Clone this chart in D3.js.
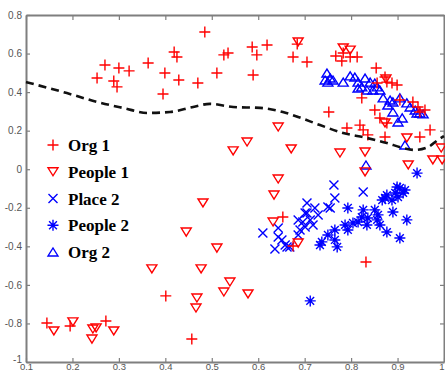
<!DOCTYPE html>
<html><head><meta charset="utf-8">
<script src="https://cdn.jsdelivr.net/npm/d3@7"></script>
<style>html,body{margin:0;padding:0;background:#fff;} svg{display:block}</style>
</head><body>
<svg id="c" width="445" height="372"></svg>
<script>
// ---------- data ----------
const xTicks = [0.1,0.2,0.3,0.4,0.5,0.6,0.7,0.8,0.9,1.0];
const xTickLabels = ["0.1","0.2","0.3","0.4","0.5","0.6","0.7","0.8","0.9","1"];
const yTicks = [0.8,0.6,0.4,0.2,0,-0.2,-0.4,-0.6,-0.8,-1];
const yTickLabels = ["0.8","0.6","0.4","0.2","0","-0.2","-0.4","-0.6","-0.8","-1"];
const seriesNames = ["Org 1","People 1","Place 2","People 2","Org 2"];

const org1 = [
 [0.253,0.473],[0.270,0.541],[0.300,0.525],[0.322,0.510],[0.289,0.458],[0.296,0.427],
 [0.363,0.551],[0.485,0.712],[0.419,0.608],[0.425,0.582],[0.399,0.499],[0.429,0.463],
 [0.470,0.447],[0.395,0.390],[0.511,0.499],[0.526,0.593],[0.535,0.603],[0.587,0.634],
 [0.597,0.593],[0.619,0.644],[0.589,0.489],[0.675,0.582],[0.684,0.649],[0.705,0.556],
 [0.767,0.587],[0.783,0.603],[0.798,0.582],[0.813,0.582],[0.780,0.561],[0.854,0.525],
 [0.873,0.478],[0.877,0.452],[0.888,0.447],[0.899,0.437],[0.856,0.447],[0.823,0.370],
 [0.752,0.297],[0.851,0.307],[0.862,0.266],[0.877,0.240],[0.905,0.359],[0.933,0.349],
 [0.944,0.323],[0.948,0.297],[0.959,0.307],[0.791,0.214],[0.819,0.229],[0.826,0.204],
 [0.836,0.178],[0.873,0.167],[0.948,0.167],[0.970,0.204],[0.653,-0.248],[0.675,-0.398],
 [0.401,-0.657],[0.457,-0.881],[0.832,-0.481],[0.145,-0.798],[0.195,-0.813],[0.272,-0.787]
];
const people1 = [
 [0.686,0.660],[0.783,0.629],[0.798,0.618],[0.875,0.468],[0.873,0.240],[0.920,0.162],
 [0.776,0.084],[0.830,0.089],[0.830,-0.014],[0.923,0.022],[0.976,0.048],[0.996,0.048],
 [0.994,0.110],[0.643,0.219],[0.576,0.141],[0.546,0.095],[0.671,0.105],[0.643,-0.051],
 [0.634,-0.134],[0.481,-0.175],[0.445,-0.326],[0.632,-0.274],[0.511,-0.409],[0.686,-0.383],
 [0.371,-0.517],[0.477,-0.517],[0.539,-0.585],[0.526,-0.637],[0.578,-0.647],[0.468,-0.668],
 [0.466,-0.720],[0.160,-0.839],[0.201,-0.792],[0.244,-0.829],[0.251,-0.823],[0.242,-0.881],
 [0.289,-0.839]
];
const place2 = [
 [0.763,-0.082],[0.765,-0.149],[0.755,-0.201],[0.826,-0.118],[0.705,-0.175],[0.722,-0.201],
 [0.705,-0.227],[0.729,-0.237],[0.712,-0.263],[0.696,-0.274],[0.718,-0.289],[0.701,-0.300],
 [0.690,-0.315],[0.686,-0.263],[0.610,-0.331],[0.643,-0.305],[0.643,-0.351],[0.651,-0.367],
 [0.636,-0.414],[0.662,-0.403],[0.686,-0.341],[0.658,-0.393],[0.668,-0.403],[0.701,-0.227],
 [0.750,-0.196]
];
const people2 = [
 [0.942,-0.020],[0.905,-0.097],[0.916,-0.108],[0.895,-0.123],[0.899,-0.092],[0.877,-0.134],
 [0.867,-0.160],[0.873,-0.149],[0.888,-0.160],[0.901,-0.144],[0.912,-0.123],[0.890,-0.222],
 [0.920,-0.263],[0.793,-0.201],[0.826,-0.211],[0.823,-0.248],[0.851,-0.211],[0.858,-0.237],
 [0.836,-0.253],[0.815,-0.274],[0.834,-0.289],[0.856,-0.263],[0.862,-0.289],[0.804,-0.279],
 [0.793,-0.315],[0.877,-0.326],[0.905,-0.357],[0.765,-0.315],[0.750,-0.341],[0.733,-0.393],
 [0.737,-0.377],[0.765,-0.367],[0.770,-0.403],[0.712,-0.683],[0.787,-0.289]
];
const org2 = [
 [0.748,0.499],[0.755,0.473],[0.750,0.452],[0.744,0.463],[0.761,0.463],[0.783,0.452],
 [0.798,0.484],[0.808,0.478],[0.815,0.452],[0.830,0.473],[0.841,0.452],[0.851,0.447],
 [0.823,0.427],[0.815,0.421],[0.834,0.411],[0.847,0.411],[0.862,0.411],[0.856,0.427],
 [0.869,0.370],[0.884,0.359],[0.879,0.333],[0.890,0.349],[0.905,0.370],[0.890,0.297],
 [0.901,0.245],[0.920,0.344],[0.927,0.323],[0.938,0.307],[0.948,0.292],[0.955,0.287],
 [0.942,0.292],[0.916,0.126],[0.832,0.022],[0.910,0.266]
];
const boundary = [
 [0.100,0.452],[0.188,0.395],[0.253,0.349],[0.309,0.318],[0.361,0.292],[0.410,0.297],
 [0.460,0.323],[0.496,0.339],[0.546,0.323],[0.604,0.318],[0.653,0.297],[0.686,0.271],
 [0.733,0.229],[0.783,0.188],[0.834,0.162],[0.877,0.136],[0.912,0.110],[0.938,0.100],
 [0.966,0.115],[0.987,0.152],[1.000,0.172]
];

// ---------- chart ----------
const svg = d3.select("#c");
const x = d3.scaleLinear().domain([0.1, 1.0]).range([26, 444]);
const y = d3.scaleLinear().domain([-1, 0.8]).range([362, 15]);

const RED = "#ff0000", BLUE = "#0000ff";
function markerPath(type) {
  switch (type) {
    case "plus": { const s = 5.5; return `M${-s},0H${s}M0,${-s}V${s}`; }
    case "tdown": { const s = 5, h = 4; return `M${-s},${-h}H${s}L0,${h}Z`; }
    case "tup": { const s = 5, h = 4; return `M${-s},${h}H${s}L0,${-h}Z`; }
    case "x": { const s = 4.5; return `M${-s},${-s}L${s},${s}M${-s},${s}L${s},${-s}`; }
    case "star": { const s = 5.5, d = 3.9;
      return `M${-s},0H${s}M0,${-s}V${s}M${-d},${-d}L${d},${d}M${-d},${d}L${d},${-d}`; }
  }
}
const series = [
  {name: seriesNames[0], data: org1, type: "plus", color: RED},
  {name: seriesNames[1], data: people1, type: "tdown", color: RED},
  {name: seriesNames[2], data: place2, type: "x", color: BLUE},
  {name: seriesNames[3], data: people2, type: "star", color: BLUE},
  {name: seriesNames[4], data: org2, type: "tup", color: BLUE}
];

// axes
const axisColor = "#7f7f7f";
function styleAxis(g) {
  g.select(".domain").attr("stroke", axisColor).attr("stroke-width", 2);
  g.selectAll(".tick line").attr("stroke", axisColor).attr("stroke-width", 1.2);
  g.selectAll(".tick text").attr("fill", "#555").attr("font-family", "'Liberation Sans', Arial, sans-serif").attr("font-size", 10);
}
const bottomAxis = svg.append("g").attr("transform", "translate(0,362)")
  .call(d3.axisBottom(x).tickValues(xTicks).tickFormat((d,i)=>xTickLabels[i]).tickSizeInner(-4).tickSizeOuter(0).tickPadding(1.5))
  .call(styleAxis);
bottomAxis.selectAll(".tick text").attr("font-size", 9.5);
// keep the last label inside the picture
bottomAxis.selectAll(".tick text").filter((d,i)=>i===xTicks.length-1).attr("text-anchor","end").attr("x", 0);

svg.append("g").attr("transform", "translate(0,15)")
  .call(d3.axisTop(x).tickValues(xTicks).tickFormat("").tickSizeInner(-5).tickSizeOuter(0))
  .call(styleAxis);
const leftAxis = svg.append("g").attr("transform", "translate(26,0)")
  .call(d3.axisLeft(y).tickValues(yTicks).tickFormat((d,i)=>yTickLabels[i]).tickSizeInner(-4).tickSizeOuter(0).tickPadding(4))
  .call(styleAxis);
// lift the lowest label a little so it clears the first x label
leftAxis.selectAll(".tick text").filter((d,i)=>i===yTicks.length-1).attr("y", -3);
svg.append("g").attr("transform", "translate(444,0)")
  .call(d3.axisRight(y).tickValues(yTicks).tickFormat("").tickSizeInner(-4).tickSizeOuter(0))
  .call(styleAxis);

// points: blue first, red on top
const drawOrder = [series[2], series[3], series[4], series[1], series[0]];
drawOrder.forEach(s => {
  svg.append("g").selectAll("path").data(s.data).join("path")
    .attr("transform", d => `translate(${x(d[0])},${y(d[1])})`)
    .attr("d", markerPath(s.type))
    .attr("fill", "none").attr("stroke", s.color).attr("stroke-width", 1.4);
});

// dashed boundary
svg.append("path").datum(boundary)
  .attr("d", d3.line().x(d=>x(d[0])).y(d=>y(d[1])).curve(d3.curveMonotoneX))
  .attr("fill", "none").attr("stroke", "#111").attr("stroke-width", 2.6)
  .attr("stroke-dasharray", "8,5");

// legend
const leg = svg.append("g");
const legY = d3.scalePoint().domain(seriesNames).range([145, 252]);
series.forEach(s => {
  const yy = legY(s.name);
  leg.append("path").attr("transform", `translate(53,${yy})`).attr("d", markerPath(s.type))
    .attr("fill", "none").attr("stroke", s.color).attr("stroke-width", 1.4);
  leg.append("text").attr("x", 68).attr("y", yy + 6).text(s.name)
    .attr("font-family", "'Liberation Serif', 'Times New Roman', serif")
    .attr("font-weight", "bold").attr("font-size", 17).attr("fill", "#000");
});
</script>
</body></html>
